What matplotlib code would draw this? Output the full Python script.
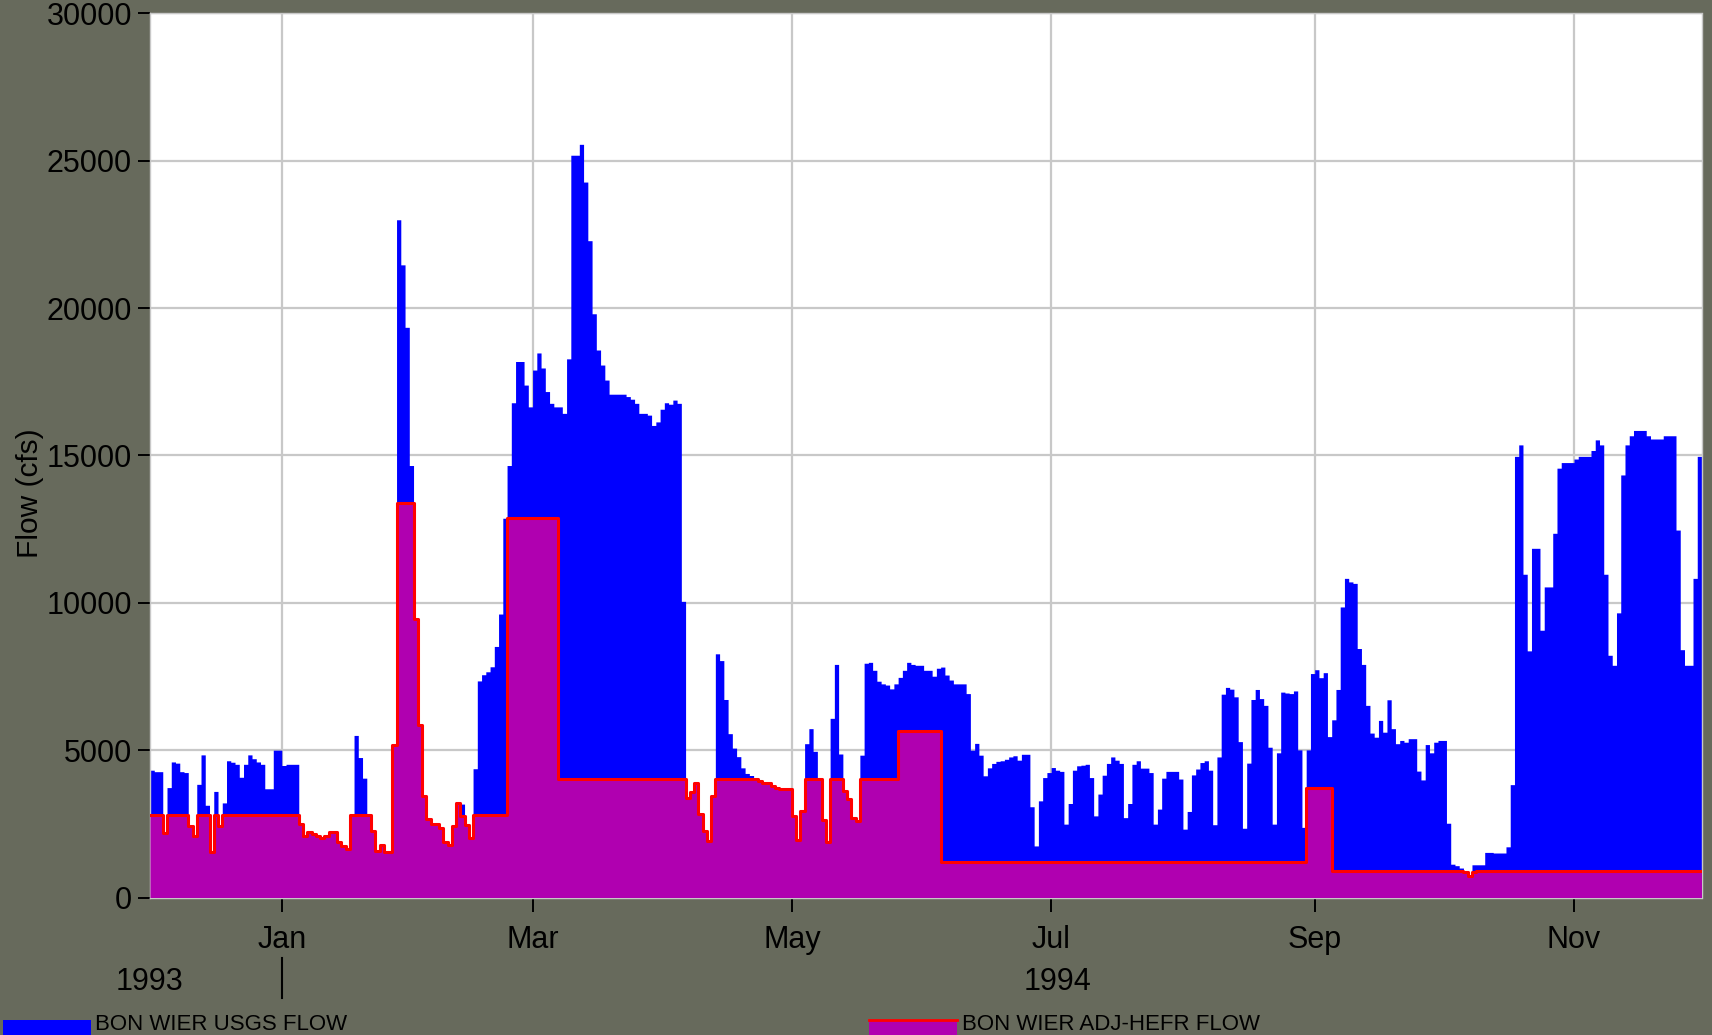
import numpy as np
import pandas as pd
import matplotlib
matplotlib.use("Agg")
import matplotlib.pyplot as plt
import matplotlib.dates as mdates
import matplotlib.transforms as mtransforms
from matplotlib.patches import Rectangle
from matplotlib.lines import Line2D

plt.rcParams['font.family'] = ['Liberation Sans', 'DejaVu Sans']

# Daily flows (cfs), one value per day starting 1 Dec 1993
start_date = "1993-12-01"

usgs_dec = [4320, 4270, 4270, 2200, 3730, 4600, 4560, 4270, 4240, 2420,
            2100, 3840, 4840, 3130, 1550, 3600, 2420, 3210, 4640, 4590,
            4520, 4080, 4520, 4840, 4710, 4600, 4520, 3690, 3690, 5000, 5000]
usgs_jan = [4480, 4520, 4520, 4520, 2500, 2100, 2215, 2150, 2100, 2030,
            2100, 2215, 2215, 1870, 1740, 1630, 2785, 5500, 4750, 4050,
            2785, 2260, 1580, 1790, 1530, 1530, 5190, 23000, 21470, 19350, 14660]
usgs_feb = [9450, 5870, 3460, 2660, 2490, 2490, 2350, 1890, 1770, 2440,
            3220, 3170, 2460, 2030, 4370, 7350, 7560, 7660, 7830, 8520,
            9620, 12870, 14660, 16790, 18190, 18190, 17390, 16650]
usgs_mar = [17900, 18480, 17970, 17170, 16770, 16650, 16650, 16430, 18280, 25190,
            25190, 25560, 24280, 22290, 19810, 18580, 18070, 17560, 17080, 17080,
            17080, 17080, 17000, 16910, 16770, 16430, 16430, 16370, 16020, 16140, 16570]
usgs_apr = [16790, 16740, 16880, 16770, 10050, 3370, 3580, 3900, 2840, 2260,
            1920, 3450, 8270, 8040, 6720, 5560, 5070, 4780, 4400, 4210,
            4140, 4030, 3940, 3900, 3880, 3770, 3720, 3680, 3680, 3680]
usgs_may = [2750, 1960, 2950, 5220, 5730, 4960, 4030, 2620, 1890, 6080,
            7910, 4870, 3610, 3350, 2710, 2580, 4830, 7950, 7980, 7710,
            7340, 7250, 7210, 7080, 7250, 7470, 7710, 7980, 7910, 7880, 7880]
usgs_jun = [7710, 7710, 7510, 7780, 7820, 7550, 7380, 7250, 7250, 7250,
            6920, 5000, 5230, 4830, 4130, 4400, 4550, 4620, 4640, 4690,
            4770, 4810, 4660, 4860, 4860, 3080, 1750, 3280, 4070, 4240]
usgs_jul = [4410, 4320, 4280, 2490, 3190, 4320, 4470, 4490, 4520, 4070,
            2770, 3510, 4150, 4550, 4770, 4660, 4550, 2710, 3190, 4520,
            4640, 4390, 4390, 4240, 2490, 3000, 4050, 4280, 4280, 4280, 4020]
usgs_aug = [2320, 2920, 4160, 4360, 4580, 4640, 4320, 2470, 4770, 6900,
            7130, 7070, 6810, 5290, 2350, 4560, 6720, 7060, 6750, 6520,
            5100, 2490, 4910, 6970, 6940, 6920, 7010, 5010, 2380, 5010, 7600]
usgs_sep = [7730, 7460, 7630, 5460, 6030, 7060, 9860, 10830, 10710, 10660,
            8450, 7910, 6520, 5580, 5440, 6010, 5610, 6710, 5730, 5220,
            5330, 5270, 5390, 5390, 4290, 3990, 5190, 4910, 5270, 5330]
usgs_oct = [5330, 2520, 1130, 1080, 1000, 890, 740, 1110, 1110, 1110,
            1530, 1530, 1510, 1510, 1510, 1720, 3830, 14970, 15360, 10970,
            8370, 11850, 11850, 9070, 10540, 10540, 12360, 14570, 14760, 14760, 14760]
usgs_nov = [14880, 14970, 14970, 14970, 15170, 15530, 15360, 10970, 8220, 7880,
            9660, 14340, 15360, 15670, 15850, 15850, 15850, 15670, 15560, 15560,
            15560, 15670, 15670, 15670, 12470, 8410, 7880, 7880, 10830, 14970]

hefr_dec = [2785, 2785, 2785, 2200, 2785, 2785, 2785, 2785, 2785, 2420,
            2100, 2785, 2785, 2785, 1550, 2785, 2420, 2785, 2785, 2785,
            2785, 2785, 2785, 2785, 2785, 2785, 2785, 2785, 2785, 2785, 2785]
hefr_jan = [2785, 2785, 2785, 2785, 2500, 2100, 2215, 2150, 2100, 2030,
            2100, 2215, 2215, 1870, 1740, 1630, 2785, 2785, 2785, 2785,
            2785, 2260, 1580, 1790, 1530, 1530, 5190, 13380, 13380, 13380, 13380]
hefr_feb = [9450, 5870, 3460, 2660, 2490, 2490, 2350, 1890, 1770, 2440,
            3220, 2780, 2460, 2030, 2785, 2785, 2785, 2785, 2785, 2785,
            2785, 2785, 12870, 12870, 12870, 12870, 12870, 12870]
hefr_mar = [12870, 12870, 12870, 12870, 12870, 12870, 4030, 4030, 4030, 4030,
            4030, 4030, 4030, 4030, 4030, 4030, 4030, 4030, 4030, 4030,
            4030, 4030, 4030, 4030, 4030, 4030, 4030, 4030, 4030, 4030, 4030]
hefr_apr = [4030, 4030, 4030, 4030, 4030, 3370, 3580, 3900, 2840, 2260,
            1920, 3450, 4030, 4030, 4030, 4030, 4030, 4030, 4030, 4030,
            4030, 4030, 3940, 3900, 3880, 3770, 3720, 3680, 3680, 3680]
hefr_may = [2750, 1960, 2950, 4030, 4030, 4030, 4030, 2620, 1890, 4030,
            4030, 4030, 3610, 3350, 2710, 2580, 4030, 4030, 4030, 4030,
            4030, 4030, 4030, 4030, 4030, 5660, 5660, 5660, 5660, 5660, 5660]
hefr_jun = [5660, 5660, 5660, 5660, 1220, 1220, 1220, 1220, 1220, 1220,
            1220, 1220, 1220, 1220, 1220, 1220, 1220, 1220, 1220, 1220,
            1220, 1220, 1220, 1220, 1220, 1220, 1220, 1220, 1220, 1220]
hefr_jul = [1220, 1220, 1220, 1220, 1220, 1220, 1220, 1220, 1220, 1220,
            1220, 1220, 1220, 1220, 1220, 1220, 1220, 1220, 1220, 1220,
            1220, 1220, 1220, 1220, 1220, 1220, 1220, 1220, 1220, 1220, 1220]
hefr_aug = [1220, 1220, 1220, 1220, 1220, 1220, 1220, 1220, 1220, 1220,
            1220, 1220, 1220, 1220, 1220, 1220, 1220, 1220, 1220, 1220,
            1220, 1220, 1220, 1220, 1220, 1220, 1220, 1220, 1220, 3720, 3720]
hefr_sep = [3720, 3720, 3720, 3720, 885, 885, 885, 885, 885, 885,
            885, 885, 885, 885, 885, 885, 885, 885, 885, 885,
            885, 885, 885, 885, 885, 885, 885, 885, 885, 885]
hefr_oct = [885, 885, 885, 885, 885, 850, 740, 850, 885, 885,
            885, 885, 885, 885, 885, 885, 885, 885, 885, 885,
            885, 885, 885, 885, 885, 885, 885, 885, 885, 885, 885]
hefr_nov = [885, 885, 885, 885, 885, 885, 885, 885, 885, 885,
            885, 885, 885, 885, 885, 885, 885, 885, 885, 885,
            885, 885, 885, 885, 885, 885, 885, 885, 885, 885]

month_ticks = ["Jan", "Mar", "May", "Jul", "Sep", "Nov"]
year_labels = ["1993", "1994"]
series_names = ["BON WIER USGS FLOW", "BON WIER ADJ-HEFR FLOW"]

usgs_flow = np.array(usgs_dec + usgs_jan + usgs_feb + usgs_mar + usgs_apr + usgs_may +
                     usgs_jun + usgs_jul + usgs_aug + usgs_sep + usgs_oct + usgs_nov, float)
hefr_flow = np.array(hefr_dec + hefr_jan + hefr_feb + hefr_mar + hefr_apr + hefr_may +
                     hefr_jun + hefr_jul + hefr_aug + hefr_sep + hefr_oct + hefr_nov, float)

# Step edges: each day is drawn from its date to the next one
edges = pd.date_range(start_date, periods=len(usgs_flow) + 1, freq="D")
xe = mdates.date2num(edges)
usgs_step = np.append(usgs_flow, usgs_flow[-1])
hefr_step = np.append(hefr_flow, hefr_flow[-1])

BG = "#676a5c"
BLUE = "#0000ff"
MAGENTA = "#b000b0"
RED = "#ff0000"
GRID = "#c8c8c8"

W, H = 1712, 1035
fig = plt.figure(figsize=(W / 100, H / 100), dpi=100, facecolor=BG)
left, right, top, bottom = 150, 1701.5, 13.5, 897.5
ax = fig.add_axes([left / W, 1 - bottom / H, (right - left) / W, (bottom - top) / H])
ax.set_facecolor("white")

ax.fill_between(xe, 0, usgs_step, step="post", color=BLUE, lw=0, zorder=2)
ax.fill_between(xe, 0, hefr_step, step="post", color=MAGENTA, lw=0, zorder=3)
ax.step(xe, hefr_step, where="post", color=RED, lw=2.2, zorder=4)

ax.set_xlim(xe[0], xe[-1])
ax.set_ylim(0, 30000)
ax.set_yticks(np.arange(0, 30001, 5000))
ax.xaxis.set_major_locator(mdates.MonthLocator(bymonth=[1, 3, 5, 7, 9, 11]))
ax.xaxis.set_major_formatter(mdates.DateFormatter("%b"))

ax.set_axisbelow(True)
ax.grid(True, color=GRID, lw=1.6, zorder=1)
for sp in ax.spines.values():
    sp.set_color(GRID)
    sp.set_linewidth(1.0)

ax.tick_params(axis="y", length=8.5, width=1.4, pad=4.5, labelsize=22, colors="black")
ax.tick_params(axis="x", length=10, width=1.4, pad=9.5, labelsize=22, colors="black")

# Year row beneath the month labels, with a divider at the new year
year_y = 1 - 982 / H
fig.text(150 / W, year_y, year_labels[0], ha="center", va="center", fontsize=22)
fig.text(1058 / W, year_y, year_labels[1], ha="center", va="center", fontsize=22)
jan1 = mdates.date2num(pd.Timestamp("1994-01-01"))
blend = mtransforms.blended_transform_factory(ax.transData, fig.transFigure)
fig.add_artist(Line2D([jan1, jan1], [1 - 958 / H, 1 - 998 / H], transform=blend,
                      color="black", lw=1.5))

fig.text(30 / W, 1 - 493 / H, "Flow (cfs)", rotation=90, ha="center", va="center",
         fontsize=21.5)

# Legend strip along the bottom edge
leg_y = 1 - 1020 / H
fig.add_artist(Rectangle((2.7 / W, -0.01), 88 / W, leg_y + 0.01, transform=fig.transFigure,
                         facecolor=BLUE, edgecolor="none"))
fig.text(95 / W, 1 - 1025 / H, series_names[0], ha="left", va="center", fontsize=16)
fig.add_artist(Rectangle((869 / W, -0.01), 88 / W, leg_y + 0.01, transform=fig.transFigure,
                         facecolor=MAGENTA, edgecolor="none"))
fig.add_artist(Line2D([869 / W, 957 / W], [leg_y, leg_y], transform=fig.transFigure,
                      color=RED, lw=2))
fig.text(962 / W, 1 - 1025 / H, series_names[1], ha="left", va="center", fontsize=16)

fig.savefig("out.png", dpi=100, facecolor=BG)
